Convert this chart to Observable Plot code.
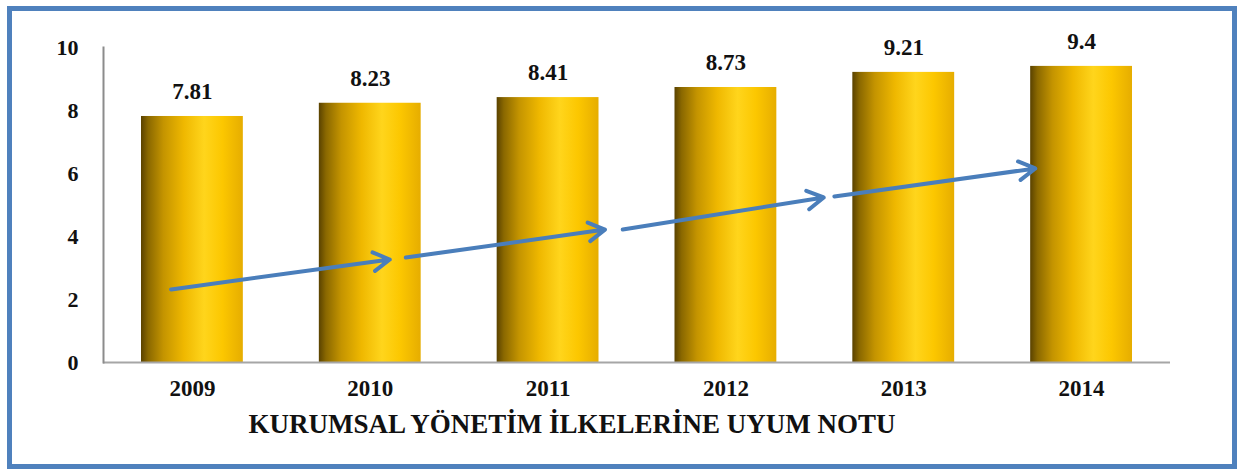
<!DOCTYPE html>
<html><head><meta charset="utf-8">
<script src="https://cdn.jsdelivr.net/npm/d3@7"></script>
<script src="https://cdn.jsdelivr.net/npm/@observablehq/plot@0.6"></script>
<style>
body{margin:0;background:#fff;}
#wrap{position:relative;width:1239px;height:470px;overflow:hidden;}
#wrap svg{position:absolute;left:0;top:0;}
#wrap svg, #wrap svg text{font-family:"Liberation Serif","Times New Roman",serif !important;}
#border{position:absolute;left:7px;top:6px;width:1220px;height:453px;border:5px solid #4f81bd;pointer-events:none;box-sizing:content-box;}
</style></head><body><div id="wrap"><div id="border"></div></div>
<script>
const years = [2009, 2010, 2011, 2012, 2013, 2014];
const values = [7.81, 8.23, 8.41, 8.73, 9.21, 9.4];
const labels = ["7.81", "8.23", "8.41", "8.73", "9.21", "9.4"];
const yTicks = [0, 2, 4, 6, 8, 10];
const title = "KURUMSAL YÖNETİM İLKELERİNE UYUM NOTU";
// trend arrows (annotation), in data units: x = year, y = score
const trendX1 = [2008.88, 2010.20, 2011.42, 2012.61];
const trendY1 = [2.32, 3.33, 4.22, 5.27];
const trendX2 = [2010.11, 2011.32, 2012.55, 2013.74];
const trendY2 = [3.27, 4.22, 5.24, 6.16];

const data = years.map((y, i) => ({year: y, value: values[i], label: labels[i]}));
const trend = trendX1.map((x, i) => ({x1: x, y1: trendY1[i], x2: trendX2[i], y2: trendY2[i]}));
const serif = "Liberation Serif";

const defs = () => {
  const d = d3.create("svg:defs");
  const g = d.append("linearGradient").attr("id", "gold").attr("x1", "0").attr("x2", "1").attr("y1", "0").attr("y2", "0");
  [["0%", "#5a4200"], ["7%", "#8a6800"], ["22%", "#c49400"], ["42%", "#efb800"], ["62%", "#ffd51c"], ["80%", "#fcc700"], ["100%", "#e6ad00"]]
    .forEach(([o, c]) => g.append("stop").attr("offset", o).attr("stop-color", c));
  return d.node();
};

const chart = Plot.plot({
  width: 1239, height: 470,
  marginLeft: 103, marginRight: 69, marginTop: 47, marginBottom: 108,
  x: {domain: [2008.5, 2014.5]},
  y: {domain: [0, 10]},
  style: {fontFamily: serif, background: "transparent", color: "#111"},
  marks: [
    defs,
    Plot.rectY(data, {x1: d => d.year - 0.5, x2: d => d.year + 0.5, y: "value", insetLeft: 38, insetRight: 38, fill: "url(#gold)"}),
    Plot.ruleY([0], {stroke: "#a6a6a6", strokeWidth: 2}),
    Plot.frame({anchor: "left", stroke: "#8c8c8c", strokeWidth: 2}),
    Plot.axisY({ticks: yTicks, tickSize: 0, tickPadding: 25, fontSize: 22, fontWeight: "bold", fontFamily: serif, label: null}),
    Plot.axisX({ticks: years, tickSize: 0, tickPadding: 17, tickFormat: d => String(d), label: null, fontSize: 23, fontWeight: "bold", fontFamily: serif}),
    Plot.text(data, {x: "year", y: "value", text: "label", dy: -25, fontSize: 23, fontWeight: "bold", fontFamily: serif}),
    Plot.arrow(trend, {x1: "x1", y1: "y1", x2: "x2", y2: "y2", stroke: "#4a7ebb", strokeWidth: 4, headLength: 7, headAngle: 60}),
    Plot.text([title], {frameAnchor: "bottom", dy: 70, dx: -65, fontSize: 27, fontWeight: "bold", fontFamily: serif})
  ]
});
document.getElementById("wrap").prepend(chart);
</script>
</body></html>
